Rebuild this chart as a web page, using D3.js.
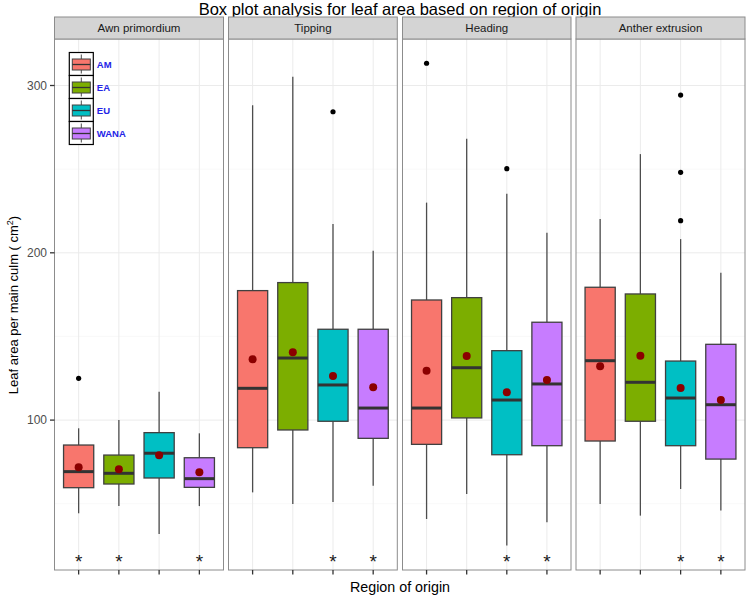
<!DOCTYPE html>
<html><head><meta charset="utf-8">
<script src="https://cdn.jsdelivr.net/npm/d3@7"></script>
<style>body{margin:0;background:#fff;}svg{display:block;font-family:"Liberation Sans",Arial,sans-serif;}</style>
</head><body><svg id="c" width="747" height="597"></svg>
<script>
const stages = ["Awn primordium","Tipping","Heading","Anther extrusion"];
const regions = ["AM","EA","EU","WANA"];
const colors = ["#F8766D","#7CAE00","#00BFC4","#C77CFF"];
// per stage, per region
const whiskerLow = [[44.3,48.6,31.9,48.6],[56.8,49.8,51.0,60.8],[40.9,55.8,25.0,38.9],[49.8,42.9,58.8,45.9]];
const q1 = [[59.6,61.8,65.4,59.8],[83.5,94.1,99.3,89.1],[85.5,101.3,79.3,84.7],[87.5,99.3,84.7,76.7]];
const medians = [[69.2,68.2,80.2,65.0],[119.0,137.1,121.0,107.2],[107.2,131.3,112.0,121.6],[135.5,122.6,113.2,109.2]];
const q3 = [[85.1,79.1,92.5,77.5],[177.4,182.2,154.3,154.3],[171.8,173.2,141.5,158.5],[179.4,175.4,135.3,145.3]];
const whiskerHigh = [[95.1,100.0,117.0,92.1],[288.2,305.3,217.2,201.3],[230.0,268.2,235.3,212.0],[220.2,259.0,208.2,188.1]];
const means = [[71.8,70.6,79.0,68.8],[136.3,140.5,126.4,119.6],[129.5,138.3,116.6,124.0],[132.2,138.5,119.2,112.0]];
// outliers: [stage, region, value]
const outliers = [[0,0,125],[1,2,284.3],[2,0,313.3],[2,2,250.3],[3,2,294.3],[3,2,248.1],[3,2,219.2]];
// significance stars: [stage, region]
const stars = [[0,0],[0,1],[0,3],[1,2],[1,3],[2,2],[2,3],[3,2],[3,3]];
const starValue = 18.3;
const yTicks = [100,200,300];
const yMinor = [50,150,250];

const svg = d3.select("#c");
const plotTop = 39, plotBottom = 570;
const panelX = [[54.5,223.5],[228.5,397.3],[402.5,571],[576,745]];
const y = d3.scaleLinear().domain([10.4,327.8]).range([plotBottom, plotTop]);

svg.append("text").attr("x",400).attr("y",15).attr("text-anchor","middle")
  .attr("font-size",16.5).attr("fill","#000").text("Box plot analysis for leaf area based on region of origin");

stages.forEach((st, si) => {
  const [x0,x1] = panelX[si];
  const x = d3.scalePoint().domain(regions).range([x0,x1]).padding(0.6);
  const bw = 0.75*x.step();
  const g = svg.append("g");
  g.append("rect").attr("x",x0).attr("y",plotTop).attr("width",x1-x0).attr("height",plotBottom-plotTop).attr("fill","#fff");
  yMinor.forEach(v => g.append("line").attr("x1",x0).attr("x2",x1).attr("y1",y(v)).attr("y2",y(v)).attr("stroke","#f5f5f5").attr("stroke-width",0.6));
  yTicks.forEach(v => g.append("line").attr("x1",x0).attr("x2",x1).attr("y1",y(v)).attr("y2",y(v)).attr("stroke","#ebebeb").attr("stroke-width",1));
  regions.forEach(r => g.append("line").attr("x1",x(r)).attr("x2",x(r)).attr("y1",plotTop).attr("y2",plotBottom).attr("stroke","#ebebeb").attr("stroke-width",1));
  regions.forEach((r,i) => {
    const cx = x(r);
    g.append("line").attr("x1",cx).attr("x2",cx).attr("y1",y(whiskerHigh[si][i])).attr("y2",y(q3[si][i])).attr("stroke","#4d4d4d").attr("stroke-width",1.3);
    g.append("line").attr("x1",cx).attr("x2",cx).attr("y1",y(q1[si][i])).attr("y2",y(whiskerLow[si][i])).attr("stroke","#4d4d4d").attr("stroke-width",1.3);
    g.append("rect").attr("x",cx-bw/2).attr("width",bw).attr("y",y(q3[si][i])).attr("height",y(q1[si][i])-y(q3[si][i]))
      .attr("fill",colors[i]).attr("stroke","#404040").attr("stroke-width",1.3);
    g.append("line").attr("x1",cx-bw/2).attr("x2",cx+bw/2).attr("y1",y(medians[si][i])).attr("y2",y(medians[si][i])).attr("stroke","#333").attr("stroke-width",3);
    g.append("circle").attr("cx",cx).attr("cy",y(means[si][i])).attr("r",4).attr("fill","#8B0000");
  });
  outliers.filter(o=>o[0]===si).forEach(o => g.append("circle").attr("cx",x(regions[o[1]])).attr("cy",y(o[2])).attr("r",2.6).attr("fill","#000"));
  stars.filter(s=>s[0]===si).forEach(s => g.append("text").attr("x",x(regions[s[1]])).attr("y",y(starValue)+11).attr("text-anchor","middle").attr("font-size",19).attr("fill","#1a1a1a").text("*"));
  g.append("rect").attr("x",x0).attr("y",plotTop).attr("width",x1-x0).attr("height",plotBottom-plotTop).attr("fill","none").attr("stroke","#8c8c8c").attr("stroke-width",1);
  g.append("rect").attr("x",x0).attr("y",17).attr("width",x1-x0).attr("height",plotTop-17).attr("fill","#d4d4d4").attr("stroke","#8c8c8c").attr("stroke-width",1);
  g.append("text").attr("x",(x0+x1)/2).attr("y",32).attr("text-anchor","middle").attr("font-size",11.5).attr("fill","#1a1a1a").text(st);
  regions.forEach(r => g.append("line").attr("x1",x(r)).attr("x2",x(r)).attr("y1",plotBottom).attr("y2",plotBottom+4.5).attr("stroke","#333").attr("stroke-width",1.3));
});

const ya = svg.append("g");
yTicks.forEach(v => {
  ya.append("line").attr("x1",50).attr("x2",54.5).attr("y1",y(v)).attr("y2",y(v)).attr("stroke","#333").attr("stroke-width",1.3);
  ya.append("text").attr("x",47).attr("y",y(v)+4.3).attr("text-anchor","end").attr("font-size",12).attr("fill","#4d4d4d").text(v);
});
const yl = svg.append("text").attr("transform","translate(18,305) rotate(-90)").attr("text-anchor","middle").attr("font-size",13).attr("fill","#000");
yl.append("tspan").text("Leaf area per main culm ( cm");
yl.append("tspan").attr("font-size",9).attr("dy",-5).text("2");
yl.append("tspan").attr("dy",5).text(")");
svg.append("text").attr("x",400).attr("y",592).attr("text-anchor","middle").attr("font-size",14.3).attr("fill","#000").text("Region of origin");

const lg = svg.append("g");
regions.forEach((r,i) => {
  const ky = 52.5 + i*23, kx = 69.3, kw = 24, kh = 23;
  lg.append("rect").attr("x",kx).attr("y",ky).attr("width",kw).attr("height",kh).attr("fill","#fff").attr("stroke","#000").attr("stroke-width",1.2);
  lg.append("line").attr("x1",kx+kw/2).attr("x2",kx+kw/2).attr("y1",ky+2).attr("y2",ky+kh-2).attr("stroke","#4d4d4d").attr("stroke-width",1);
  lg.append("rect").attr("x",kx+3).attr("y",ky+6.5).attr("width",kw-6).attr("height",kh-12).attr("fill",colors[i]).attr("stroke","#404040").attr("stroke-width",1);
  lg.append("line").attr("x1",kx+3).attr("x2",kx+kw-3).attr("y1",ky+kh/2+0.5).attr("y2",ky+kh/2+0.5).attr("stroke","#333").attr("stroke-width",1.3);
  lg.append("text").attr("x",kx+kw+3.5).attr("y",ky+kh/2+4).attr("font-size",9.5).attr("font-weight","bold").attr("fill","#2424e6").text(r);
});
</script></body></html>
